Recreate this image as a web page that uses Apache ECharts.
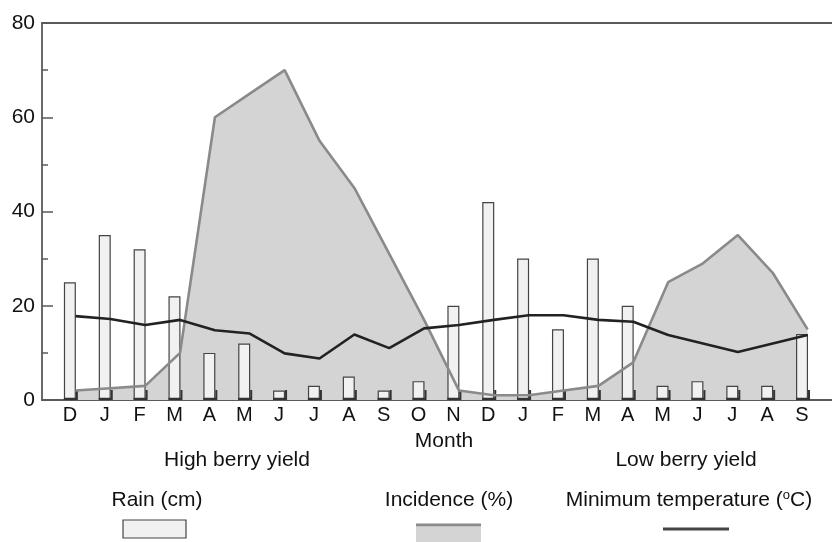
<!DOCTYPE html>
<html>
<head>
<meta charset="utf-8">
<script src="https://cdn.jsdelivr.net/npm/echarts@6/dist/echarts.min.js"></script>
<style>
	html, body { margin: 0; padding: 0; background: #fff; }
	#chart { width: 832px; height: 542px; }
</style>
</head>
<body>
<div id="chart"></div>
<script>
;
(function() {

	var chart = echarts.init(document.getElementById('chart'));

	// 月份（两个生长季）
	var months = ['D', 'J', 'F', 'M', 'A', 'M', 'J', 'J', 'A', 'S', 'O', 'N',
		'D', 'J', 'F', 'M', 'A', 'M', 'J', 'J', 'A', 'S'];
	// 降雨 (cm)
	var rain = [25, 35, 32, 22, 10, 12, 2, 3, 5, 2, 4, 20,
		42, 30, 15, 30, 20, 3, 4, 3, 3, 14];
	// 发病率 (%)
	var incidence = [2, 2.5, 3, 10, 60, 65, 70, 55, 45, 31, 17, 2,
		1, 1, 2, 3, 8, 25, 29, 35, 27, 15];
	// 最低温度 (oC)
	var minTemp = [17.8, 17.2, 15.9, 17, 14.8, 14.1, 9.9, 8.8, 13.9, 11, 15.2, 15.9,
		17, 18, 18, 17, 16.6, 13.8, 12, 10.2, 12, 13.8];
	var yTicks = [0, 20, 40, 60, 80];

	var font = "'Liberation Sans', Arial, sans-serif";
	var axisColor = '#5a5a5a';

	function pairs(arr) {
		var out = [];
		for (var i = 0; i < arr.length; i++) {
			out.push([i, arr[i]]);
		}
		return out;
	}

	var monthIdx = months.map(function(m, i) { return i; });
	var basePoints = months.map(function(m, i) { return [i, 0]; });

	var option = {
		backgroundColor: '#fff',
		animation: false,
		grid: {
			left: 42,
			right: 0,
			top: 23,
			bottom: 142,
		},
		xAxis: [{
			type: 'value',
			min: -0.8,
			max: 21.86,
			position: 'bottom',
			axisLine: { show: true, onZero: false, lineStyle: { color: axisColor, width: 1.8 } },
			axisTick: { show: false },
			splitLine: { show: false },
			axisLabel: {
				customValues: monthIdx,
				formatter: function(v) { return months[Math.round(v)]; },
				fontFamily: font,
				fontSize: 20,
				color: '#111',
				margin: 5,
			},
		}, {
			// 折线稍微右移
			type: 'value',
			min: -0.96,
			max: 21.70,
			position: 'top',
			axisLine: { show: true, onZero: false, lineStyle: { color: axisColor, width: 1.8 } },
			axisTick: { show: false },
			axisLabel: { show: false },
			splitLine: { show: false },
		}],
		yAxis: {
			type: 'value',
			min: 0,
			max: 80,
			interval: 20,
			axisLine: { show: true, onZero: false, lineStyle: { color: axisColor, width: 1.8 } },
			axisTick: { show: true, inside: true, length: 11, lineStyle: { color: axisColor, width: 1.5 } },
			minorTick: { show: true, splitNumber: 2, length: 6, lineStyle: { color: axisColor, width: 1.5 } },
			splitLine: { show: false },
			axisLabel: {
				customValues: yTicks,
				fontFamily: font,
				fontSize: 21,
				color: '#111',
				margin: 7,
			},
		},
		series: [{
			name: 'Incidence area',
			type: 'line',
			xAxisIndex: 1,
			data: pairs(incidence),
			symbol: 'none',
			lineStyle: { width: 0 },
			areaStyle: { color: '#d4d4d4', opacity: 1 },
			z: 1,
		}, {
			name: 'Rain (cm)',
			type: 'bar',
			xAxisIndex: 0,
			data: pairs(rain),
			barWidth: 12,
			itemStyle: { color: '#f1f1f1', borderColor: '#444', borderWidth: 1.2 },
			z: 2,
		}, {
			name: 'base',
			type: 'scatter',
			xAxisIndex: 0,
			data: basePoints,
			symbol: 'path://M0,8 L12,8 L12,10 L0,10 Z M12,1 L14,1 L14,10 L12,10 Z',
			symbolSize: [14, 10],
			symbolOffset: [1, -5],
			itemStyle: { color: '#333', opacity: 1 },
			silent: true,
			z: 3,
		}, {
			name: 'Incidence (%)',
			type: 'line',
			xAxisIndex: 1,
			data: pairs(incidence),
			symbol: 'none',
			lineStyle: { color: '#8a8a8a', width: 2.6 },
			z: 4,
		}, {
			name: 'Minimum temperature',
			type: 'line',
			xAxisIndex: 1,
			data: pairs(minTemp),
			symbol: 'none',
			lineStyle: { color: '#222', width: 2.6 },
			z: 5,
		}],
		graphic: [
			{ type: 'text', x: 444, y: 441, style: { text: 'Month', font: '21px ' + font, fill: '#111', align: 'center', verticalAlign: 'middle' } },
			{ type: 'text', x: 237, y: 460, style: { text: 'High berry yield', font: '21px ' + font, fill: '#111', align: 'center', verticalAlign: 'middle' } },
			{ type: 'text', x: 686, y: 460, style: { text: 'Low berry yield', font: '21px ' + font, fill: '#111', align: 'center', verticalAlign: 'middle' } },
			{ type: 'text', x: 157, y: 500, style: { text: 'Rain (cm)', font: '21px ' + font, fill: '#111', align: 'center', verticalAlign: 'middle' } },
			{ type: 'text', x: 449, y: 500, style: { text: 'Incidence (%)', font: '21px ' + font, fill: '#111', align: 'center', verticalAlign: 'middle' } },
			{
				type: 'text', x: 689, y: 500,
				style: {
					text: 'Minimum temperature ({s|o}C)',
					font: '21px ' + font, fill: '#111', align: 'center', verticalAlign: 'middle',
					rich: { s: { fontSize: 13, fontFamily: font, fill: '#111', padding: [0, 0, 9, 0] } },
				}
			},
			// 图例符号
			{ type: 'rect', shape: { x: 123, y: 520, width: 63, height: 18 }, style: { fill: '#f1f1f1', stroke: '#444', lineWidth: 1.2 } },
			{ type: 'rect', shape: { x: 416, y: 527, width: 65, height: 15 }, style: { fill: '#d4d4d4' } },
			{ type: 'line', shape: { x1: 416, y1: 525, x2: 481, y2: 525 }, style: { stroke: '#8a8a8a', lineWidth: 3 } },
			{ type: 'line', shape: { x1: 663, y1: 529, x2: 729, y2: 529 }, style: { stroke: '#444', lineWidth: 3 } },
		],
	};

	chart.setOption(option);

}());
</script>
</body>
</html>
